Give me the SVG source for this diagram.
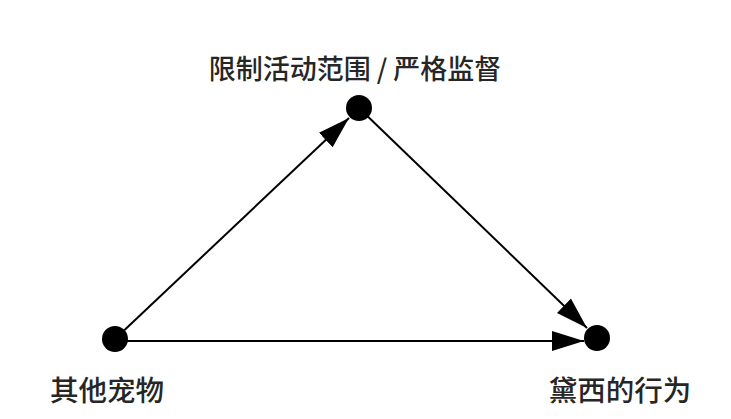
<svg xmlns="http://www.w3.org/2000/svg" width="731" height="419" viewBox="0 0 731 419">
  <style>
    .edge { stroke: #000; stroke-width: 2; fill: none; marker-end: url(#arrow); }
    .dot { fill: #000; }
    .label { font-family: "Noto Sans CJK SC", "Noto Sans", sans-serif; font-weight: 500; fill: #262626; text-anchor: middle; }
  </style>
  <defs>
    <marker id="arrow" markerUnits="userSpaceOnUse" markerWidth="34" markerHeight="22" refX="32" refY="11" orient="auto">
      <path d="M0,1 L32,11 L0,21 z" fill="#000"/>
    </marker>
  </defs>
  <rect width="731" height="419" fill="#fff"/>
  <g id="connectors">
    <line class="edge" x1="115" y1="339" x2="349" y2="118"/>
    <line class="edge" x1="359" y1="108" x2="587" y2="328"/>
    <line class="edge" x1="115" y1="341" x2="584" y2="341"/>
  </g>
  <g id="node-restrict">
    <circle class="dot" cx="359" cy="108" r="13"/>
    <text class="label" x="355" y="79" font-size="27">限制活动范围 / 严格监督</text>
  </g>
  <g id="node-other-pets">
    <circle class="dot" cx="115" cy="339" r="13"/>
    <text class="label" x="107" y="401" font-size="28.5">其他宠物</text>
  </g>
  <g id="node-daisy">
    <circle class="dot" cx="597" cy="338" r="13"/>
    <text class="label" x="620" y="401" font-size="28.5">黛西的行为</text>
  </g>
</svg>
